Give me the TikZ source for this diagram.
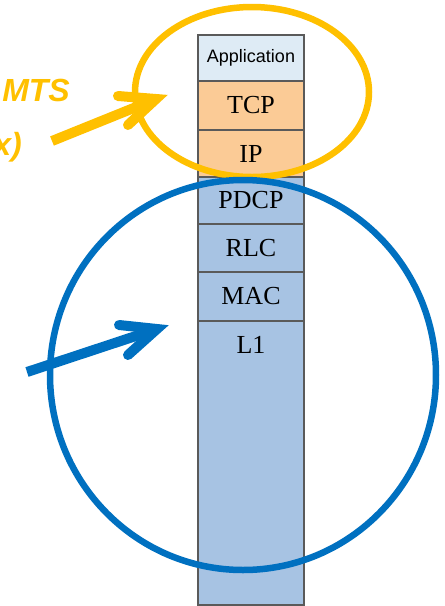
\documentclass[tikz,border=0pt]{standalone}
\usepackage{fontspec}
\setmainfont{Liberation Serif}
\newfontfamily\appfont{Liberation Sans}
\newfontfamily\labfont{Liberation Sans}
\usetikzlibrary{shapes.geometric}
\definecolor{appfill}{HTML}{DEEBF5}
\definecolor{orfill}{HTML}{FBCB96}
\definecolor{blfill}{HTML}{A7C3E3}
\definecolor{edgegray}{HTML}{5A5A5A}
\definecolor{ygold}{HTML}{FFC000}
\definecolor{mblue}{HTML}{0070C0}
\tikzset{
  layer/.style={draw=edgegray, line width=1.3pt, minimum width=106pt, inner sep=0pt, outer sep=0pt, anchor=north west, font=\fontsize{26}{26}\selectfont},
  ring/.style={ellipse, line width=6.5pt, inner sep=0pt, outer sep=0pt},
  shaft/.style={line width=10pt, line cap=butt},
  barbs/.style={line width=10pt, line cap=round, line join=miter, miter limit=10},
  ylab/.style={text=ygold, font=\labfont\bfseries\itshape\fontsize{32}{32}\selectfont, anchor=base east, inner sep=0pt},
}
\begin{document}
\begin{tikzpicture}[x=1pt,y=-1pt]
\useasboundingbox (0,0) rectangle (445,606);
% protocol stack
\node[layer, fill=appfill, minimum height=46pt, font=\appfont\fontsize{18}{18}\selectfont] (app) at (198,35) {Application};
\node[layer, fill=orfill, minimum height=49pt] (tcp) at (198,81) {TCP};
\node[layer, fill=orfill, minimum height=47pt] (ip) at (198,130) {IP};
\node[layer, fill=blfill, minimum height=47pt] (pdcp) at (198,177) {PDCP};
\node[layer, fill=blfill, minimum height=48pt] (rlc) at (198,224) {RLC};
\node[layer, fill=blfill, minimum height=49pt] (mac) at (198,272) {MAC};
\node[layer, fill=blfill, minimum height=284pt] (l1) at (198,321) {};
\node[font=\fontsize{26}{26}\selectfont, inner sep=0pt] (l1lab) at (251,345) {L1};
% rings
\node[ring, draw=ygold, minimum width=234pt, minimum height=170pt] (yring) at (252,92) {};
\node[ring, draw=mblue, minimum width=386pt, minimum height=390pt] (bring) at (243,375) {};
% yellow labels (cut at the left border, as in the source)
\node[ylab] (ytxt1) at (70,101) {MTS};
\node[ylab] (ytxt2) at (22,155) {x)};
% yellow arrow
\coordinate (ya) at (52,141);
\coordinate (yv) at (156,99);
\coordinate (yb1) at (118,96);
\coordinate (yb2) at (128,125);
\draw[shaft, ygold] (ya) -- (yv);
\draw[barbs, ygold] (yb1) -- (yv) -- (yb2);
% blue arrow
\coordinate (ba) at (27,372);
\coordinate (bv) at (157,329);
\coordinate (bb1) at (119,325);
\coordinate (bb2) at (128,355);
\draw[shaft, mblue] (ba) -- (bv);
\draw[barbs, mblue] (bb1) -- (bv) -- (bb2);
\end{tikzpicture}
\end{document}
